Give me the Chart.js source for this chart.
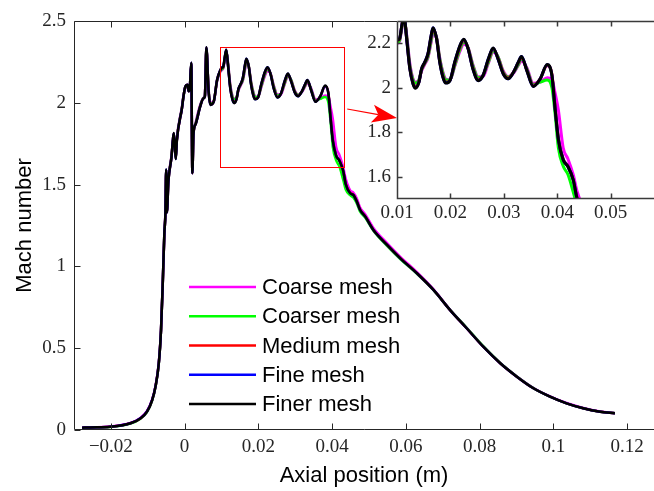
<!DOCTYPE html>
<html>
<head>
<meta charset="utf-8">
<script src="https://cdn.jsdelivr.net/npm/chart.js@4.4.1/dist/chart.umd.min.js"></script>
<style>
    html, body { margin: 0; padding: 0; background: #fff; }
    #wrap { position: relative; width: 654px; height: 491px; }
    #machChart { position: absolute; left: 0; top: 0; }
    #zoomChart { position: absolute; left: 340px; top: 0; }
</style>
</head>
<body>
<div id="wrap">
    <canvas id="machChart" width="654" height="491"></canvas>
    <canvas id="zoomChart" width="314" height="240"></canvas>
</div>
<script>
// data start
const axialPos = [
    -0.0278, -0.0256, -0.0202, -0.0147, -0.0120, -0.0102, -0.0088, -0.0079, -0.0070, -0.0064, -0.0059, -0.0055,
    -0.0052, -0.0050, -0.0048, -0.0044, -0.0036, -0.0029, -0.0024, -0.0021,
    -0.0007, -0.0003, 0.0002, 0.0008, 0.0011, 0.0014, 0.0018, 0.0021, 0.0024, 0.0030,
    0.0042, 0.0051, 0.0055, 0.0059, 0.0065, 0.0070, 0.0079, 0.0088, 0.0097, 0.0101,
    0.0105, 0.0109, 0.0113, 0.0118, 0.0124, 0.0130, 0.01345, 0.0141, 0.0146, 0.0152,
    0.0158, 0.0164, 0.01675, 0.0174, 0.0180, 0.0186, 0.0191, 0.0199, 0.0208, 0.0218,
    0.0225, 0.0233, 0.0242, 0.0252, 0.0261, 0.0271, 0.0280, 0.0289, 0.0299, 0.0308,
    0.0318, 0.0327, 0.0333, 0.0343, 0.0355, 0.0368, 0.0381,
    0.0390, 0.0396, 0.0402, 0.0411, 0.0420, 0.0430, 0.0437, 0.0449, 0.0458, 0.0467, 0.0476, 0.0490, 0.0512,
    0.0549, 0.0585, 0.0630, 0.0675, 0.0720, 0.0765, 0.0810, 0.0856, 0.0901, 0.0946, 0.0991, 0.1036, 0.1081, 0.1127, 0.1167
];

const coarseMesh = [
    0.014, 0.016, 0.021, 0.043, 0.074, 0.116, 0.187, 0.268, 0.41, 0.61, 0.915, 1.19,
    1.34, 1.58, 1.34, 1.53, 1.67, 1.80, 1.67, 1.78,
    1.98, 2.045, 2.09, 2.105, 2.075, 2.085, 2.235, 1.58, 1.80, 1.88,
    1.985, 2.03, 2.045, 2.325, 2.085, 2.0, 2.01, 2.13, 2.19, 2.20,
    2.21, 2.265, 2.31, 2.24, 2.11, 2.04, 2.025, 2.035, 2.075, 2.105,
    2.135, 2.205, 2.245, 2.225, 2.135, 2.07, 2.04, 2.035, 2.095, 2.165,
    2.195, 2.18, 2.105, 2.05, 2.05, 2.11, 2.16, 2.14, 2.075, 2.05,
    2.065, 2.10, 2.12, 2.09, 2.02, 2.025, 2.045,
    2.035, 1.975, 1.90, 1.73, 1.68, 1.608, 1.535, 1.465, 1.45, 1.415, 1.36, 1.318, 1.235,
    1.142, 1.058, 0.965, 0.86, 0.735, 0.623, 0.51, 0.409, 0.327, 0.257, 0.206, 0.165, 0.135, 0.113, 0.103
];

const coarserMesh = [
    0.012, 0.014, 0.018, 0.039, 0.069, 0.110, 0.18, 0.262, 0.405, 0.608, 0.915, 1.20,
    1.33, 1.585, 1.335, 1.525, 1.665, 1.805, 1.66, 1.775,
    1.975, 2.042, 2.095, 2.108, 2.072, 2.088, 2.24, 1.575, 1.805, 1.875,
    1.98, 2.03, 2.042, 2.33, 2.08, 1.995, 2.01, 2.135, 2.195, 2.205,
    2.215, 2.27, 2.315, 2.235, 2.10, 2.035, 2.02, 2.035, 2.08, 2.11,
    2.14, 2.215, 2.255, 2.225, 2.13, 2.065, 2.035, 2.035, 2.10, 2.175,
    2.205, 2.18, 2.10, 2.045, 2.055, 2.115, 2.165, 2.14, 2.07, 2.048,
    2.068, 2.105, 2.13, 2.085, 2.015, 2.025, 2.035,
    2.00, 1.88, 1.73, 1.648, 1.61, 1.53, 1.47, 1.435, 1.42, 1.385, 1.335, 1.298, 1.218,
    1.126, 1.045, 0.955, 0.855, 0.735, 0.625, 0.512, 0.41, 0.327, 0.256, 0.204, 0.163, 0.133, 0.112, 0.102
];

const mediumMesh = [
    0.014, 0.016, 0.020, 0.041, 0.071, 0.112, 0.183, 0.265, 0.408, 0.611, 0.917, 1.20,
    1.33, 1.59, 1.33, 1.52, 1.66, 1.812, 1.658, 1.77,
    1.97, 2.04, 2.10, 2.11, 2.07, 2.09, 2.243, 1.57, 1.81, 1.87,
    1.976, 2.027, 2.04, 2.336, 2.072, 1.989, 2.008, 2.14, 2.20, 2.213,
    2.22, 2.278, 2.323, 2.225, 2.09, 2.022, 2.004, 2.026, 2.083, 2.113,
    2.15, 2.23, 2.265, 2.222, 2.12, 2.052, 2.025, 2.033, 2.11, 2.185,
    2.212, 2.178, 2.09, 2.036, 2.055, 2.125, 2.175, 2.133, 2.065, 2.043,
    2.07, 2.112, 2.136, 2.08, 2.01, 2.04, 2.10,
    2.06, 1.91, 1.775, 1.68, 1.648, 1.585, 1.505, 1.45, 1.438, 1.398, 1.347, 1.305, 1.223,
    1.132, 1.05, 0.958, 0.856, 0.733, 0.622, 0.509, 0.408, 0.326, 0.255, 0.204, 0.163, 0.133, 0.112, 0.102
];

const fineMesh = [
    0.014, 0.016, 0.020, 0.041, 0.072, 0.113, 0.184, 0.266, 0.409, 0.612, 0.918, 1.20,
    1.33, 1.592, 1.33, 1.52, 1.66, 1.814, 1.656, 1.77,
    1.97, 2.04, 2.10, 2.11, 2.07, 2.09, 2.245, 1.569, 1.81, 1.87,
    1.975, 2.027, 2.04, 2.338, 2.07, 1.987, 2.007, 2.14, 2.20, 2.216,
    2.222, 2.28, 2.325, 2.222, 2.087, 2.018, 2.0, 2.025, 2.085, 2.115,
    2.153, 2.235, 2.27, 2.221, 2.116, 2.048, 2.022, 2.032, 2.114, 2.19,
    2.217, 2.176, 2.086, 2.033, 2.055, 2.13, 2.178, 2.13, 2.062, 2.04,
    2.07, 2.115, 2.14, 2.078, 2.007, 2.04, 2.103,
    2.055, 1.905, 1.77, 1.678, 1.646, 1.585, 1.502, 1.447, 1.436, 1.396, 1.345, 1.304, 1.222,
    1.131, 1.049, 0.958, 0.856, 0.733, 0.622, 0.509, 0.408, 0.326, 0.255, 0.204, 0.163, 0.133, 0.112, 0.102
];

const finerMesh = [
    0.014, 0.016, 0.020, 0.041, 0.071, 0.112, 0.183, 0.265, 0.408, 0.611, 0.917, 1.20,
    1.33, 1.593, 1.33, 1.52, 1.66, 1.815, 1.656, 1.77,
    1.97, 2.04, 2.10, 2.11, 2.07, 2.09, 2.245, 1.569, 1.81, 1.87,
    1.975, 2.027, 2.04, 2.339, 2.07, 1.987, 2.007, 2.14, 2.20, 2.214,
    2.222, 2.28, 2.325, 2.221, 2.085, 2.017, 1.998, 2.024, 2.085, 2.115,
    2.153, 2.236, 2.27, 2.221, 2.115, 2.047, 2.021, 2.032, 2.115, 2.191,
    2.218, 2.176, 2.085, 2.032, 2.055, 2.13, 2.179, 2.13, 2.062, 2.04,
    2.07, 2.115, 2.14, 2.077, 2.006, 2.04, 2.105,
    2.055, 1.903, 1.767, 1.676, 1.645, 1.585, 1.502, 1.447, 1.436, 1.396, 1.345, 1.304, 1.222,
    1.131, 1.049, 0.958, 0.856, 0.733, 0.622, 0.509, 0.408, 0.326, 0.255, 0.204, 0.163, 0.133, 0.112, 0.102
];

const meshNames = ['Coarse mesh', 'Coarser mesh', 'Medium mesh', 'Fine mesh', 'Finer mesh'];
const meshColors = ['#ff00ff', '#00ff00', '#ff0000', '#0000ff', '#000000'];
const meshValues = [coarseMesh, coarserMesh, mediumMesh, fineMesh, finerMesh];

const machTicksX = [-0.02, 0, 0.02, 0.04, 0.06, 0.08, 0.1, 0.12];
const machTicksY = [0, 0.5, 1, 1.5, 2, 2.5];
const zoomTicksX = [0.01, 0.02, 0.03, 0.04, 0.05];
const zoomTicksY = [1.6, 1.8, 2, 2.2];
// data end

const tickFont = { family: 'Liberation Serif', size: 19 };
const labelFont = { family: 'Liberation Sans', size: 22 };

function fmt(v) {
    const s = String(Math.abs(+v.toFixed(4)));
    return v < 0 ? '\u2212' + s : s;
}

function makeDatasets(width) {
    return meshValues.map((vals, i) => ({
        label: meshNames[i],
        data: vals.map((v, k) => ({ x: axialPos[k], y: v })),
        borderColor: meshColors[i],
        backgroundColor: meshColors[i],
        borderWidth: width,
        pointRadius: 0,
        cubicInterpolationMode: 'monotone',
        order: meshNames.length - i, // finer mesh ends up on top
        clip: 0
    }));
}

// axis lines + inward ticks, matlab style (no right edge, it is cut off)
function framePlugin(tickLen, color, lw) {
    return {
        id: 'frame',
        afterDraw(chart) {
            const { ctx, chartArea: a, scales: { x, y } } = chart;
            const L = Math.round(a.left) + 0.5, B = Math.round(a.bottom) - 0.5, T = Math.round(a.top) + 0.5;
            ctx.save();
            ctx.strokeStyle = color;
            ctx.lineWidth = lw;
            ctx.beginPath();
            ctx.moveTo(L, T); ctx.lineTo(a.right, T);
            ctx.moveTo(L, T); ctx.lineTo(L, B); ctx.lineTo(a.right, B);
            x.ticks.forEach(t => {
                const p = Math.round(x.getPixelForValue(t.value)) + 0.5;
                ctx.moveTo(p, B); ctx.lineTo(p, B - tickLen);
                ctx.moveTo(p, T); ctx.lineTo(p, T + tickLen);
            });
            y.ticks.forEach(t => {
                const p = Math.round(y.getPixelForValue(t.value)) + 0.5;
                ctx.moveTo(L, p); ctx.lineTo(L + tickLen, p);
            });
            ctx.stroke();
            ctx.restore();
        }
    };
}

// main chart start
const zoomMarks = {
    id: 'zoomMarks',
    afterDatasetsDraw(chart) {
        const { ctx, chartArea: a, scales: { x, y } } = chart;
        ctx.save();
        // red box round the zoomed part
        const bx0 = Math.round(x.getPixelForValue(0.0097)) + 0.5, bx1 = Math.round(x.getPixelForValue(0.0433)) + 0.5;
        const by0 = Math.round(y.getPixelForValue(2.343)) + 0.5, by1 = Math.round(y.getPixelForValue(1.608)) + 0.5;
        ctx.strokeStyle = '#ff0000';
        ctx.lineWidth = 1;
        ctx.strokeRect(bx0, by0, bx1 - bx0, by1 - by0);

        // arrow to the inset
        const x0 = x.getPixelForValue(0.0441), y0 = y.getPixelForValue(1.962);
        const x1 = x.getPixelForValue(0.0576), y1 = y.getPixelForValue(1.907);
        const len = Math.hypot(x1 - x0, y1 - y0), ux = (x1 - x0) / len, uy = (y1 - y0) / len;
        const head = 25, half = 9, notch = 19;
        ctx.lineWidth = 1.2;
        ctx.beginPath();
        ctx.moveTo(x0, y0);
        ctx.lineTo(x1 - ux * notch, y1 - uy * notch);
        ctx.stroke();
        ctx.fillStyle = '#ff0000';
        ctx.beginPath();
        ctx.moveTo(x1, y1);
        ctx.lineTo(x1 - ux * head - uy * half, y1 - uy * head + ux * half);
        ctx.lineTo(x1 - ux * notch, y1 - uy * notch);
        ctx.lineTo(x1 - ux * head + uy * half, y1 - uy * head - ux * half);
        ctx.closePath();
        ctx.fill();

        // legend inside the axes
        ctx.font = '22px "Liberation Sans"';
        ctx.textBaseline = 'middle';
        ctx.textAlign = 'left';
        meshNames.forEach((name, i) => {
            const ly = a.top + 266 + i * 29.25;
            ctx.strokeStyle = meshColors[i];
            ctx.lineWidth = 2.5;
            ctx.beginPath();
            ctx.moveTo(a.left + 115, ly);
            ctx.lineTo(a.left + 182, ly);
            ctx.stroke();
            ctx.fillStyle = '#000';
            ctx.fillText(name, a.left + 188, ly + 1);
        });
        ctx.restore();
    }
};

new Chart(document.getElementById('machChart'), {
    type: 'line',
    data: { datasets: makeDatasets(2.5) },
    options: {
        responsive: false,
        animation: false,
        devicePixelRatio: 1,
        events: [],
        layout: { padding: { top: 21, right: 0, bottom: 0, left: 0 } },
        plugins: { legend: { display: false }, tooltip: { enabled: false } },
        scales: {
            x: {
                type: 'linear',
                min: -0.03,
                max: 0.1273,
                afterBuildTicks: axis => { axis.ticks = machTicksX.map(v => ({ value: v })); },
                afterFit: axis => { axis.height = 61; },
                grid: { display: false, drawTicks: false },
                border: { display: false },
                ticks: { autoSkip: false, maxRotation: 0, padding: 6, color: '#262626', font: tickFont, callback: v => fmt(v) },
                title: { display: true, text: 'Axial position (m)', color: '#000', font: labelFont, padding: { top: 0, bottom: 2 } }
            },
            y: {
                min: 0,
                max: 2.5,
                afterBuildTicks: axis => { axis.ticks = machTicksY.map(v => ({ value: v })); },
                afterFit: axis => { axis.width = 74; },
                grid: { display: false, drawTicks: false },
                border: { display: false },
                ticks: { autoSkip: false, padding: 8, color: '#262626', font: tickFont, callback: v => fmt(v) },
                title: { display: true, text: 'Mach number', color: '#000', font: labelFont, padding: { top: 12, bottom: 0 } }
            }
        }
    },
    plugins: [framePlugin(6, '#262626', 1), zoomMarks]
});
// main chart end

// inset chart start
const insetBg = {
    id: 'insetBg',
    beforeDatasetsDraw(chart) {
        const { ctx, chartArea: a } = chart;
        ctx.save();
        ctx.fillStyle = '#fff';
        ctx.fillRect(a.left, a.top, a.right - a.left, a.bottom - a.top);
        ctx.restore();
    }
};

new Chart(document.getElementById('zoomChart'), {
    type: 'line',
    data: { datasets: makeDatasets(3) },
    options: {
        responsive: false,
        animation: false,
        devicePixelRatio: 1,
        events: [],
        layout: { padding: { top: 21, right: 0, bottom: 0, left: 0 } },
        plugins: { legend: { display: false }, tooltip: { enabled: false } },
        scales: {
            x: {
                type: 'linear',
                min: 0.01,
                max: 0.0581,
                afterBuildTicks: axis => { axis.ticks = zoomTicksX.map(v => ({ value: v })); },
                afterFit: axis => { axis.height = 41; },
                grid: { display: false, drawTicks: false },
                border: { display: false },
                ticks: { autoSkip: false, maxRotation: 0, padding: 3, color: '#262626', font: tickFont, callback: v => fmt(v) }
            },
            y: {
                min: 1.5,
                max: 2.3,
                afterBuildTicks: axis => { axis.ticks = zoomTicksY.map(v => ({ value: v })); },
                afterFit: axis => { axis.width = 57; },
                grid: { display: false, drawTicks: false },
                border: { display: false },
                ticks: { autoSkip: false, padding: 6, color: '#262626', font: tickFont, callback: v => fmt(v) }
            }
        }
    },
    plugins: [insetBg, framePlugin(5, '#3a3a3a', 1.5)]
});
// inset chart end
</script>
</body>
</html>
